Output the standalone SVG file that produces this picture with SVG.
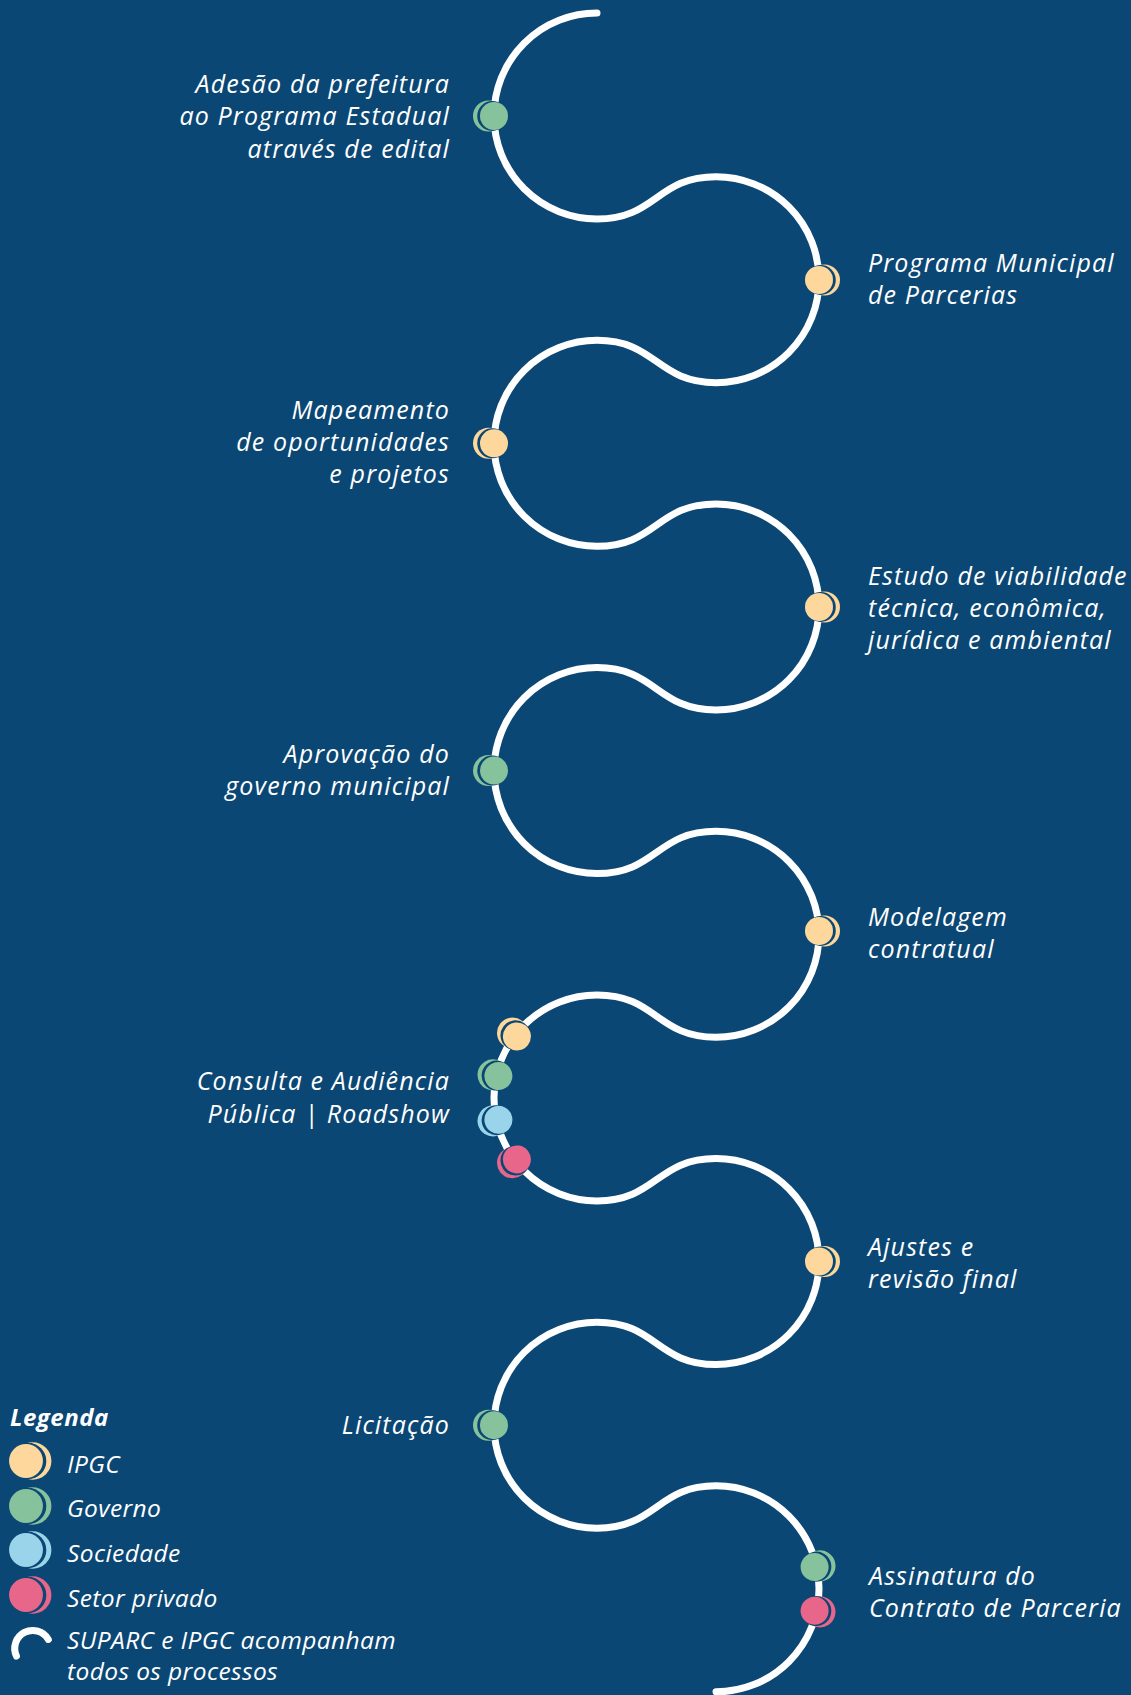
<svg xmlns="http://www.w3.org/2000/svg" xmlns:xlink="http://www.w3.org/1999/xlink" width="1131" height="1695" viewBox="0 0 1131 1695">
<style>
.t{font-family:"Open Sans","Noto Sans",sans-serif;font-style:italic;font-size:25px;fill:#ffffff;letter-spacing:1.15px}
.l{text-anchor:end}
.g{font-size:24.5px;letter-spacing:0.4px}
.h{font-weight:bold;font-size:24px;letter-spacing:0.5px}
.line{fill:none;stroke:#ffffff;stroke-width:7;stroke-linecap:round}
</style>
<defs>
<g id="dot">
<circle cx="5.5" cy="0" r="15.5" fill="currentColor"/>
<circle cx="1.8" cy="0" r="15" fill="#0b4774"/>
<circle cx="0" cy="0" r="14" fill="currentColor"/>
</g>
</defs>
<rect x="0" y="0" width="1131" height="1695" fill="#0b4774"/>
<g id="connectors">
<path class="line" d="M597,13 A103,103 0 0 0 597,219 C656.5,219 656.5,176.65 716,176.65 A103,103 0 0 1 716,382.65 C656.5,382.65 656.5,340.3 597,340.3 A103,103 0 0 0 597,546.3 C656.5,546.3 656.5,503.95 716,503.95 A103,103 0 0 1 716,709.95 C656.5,709.95 656.5,667.6 597,667.6 A103,103 0 0 0 597,873.6 C656.5,873.6 656.5,831.25 716,831.25 A103,103 0 0 1 716,1037.25 C656.5,1037.25 656.5,994.9 597,994.9 A103,103 0 0 0 597,1200.9 C656.5,1200.9 656.5,1158.55 716,1158.55 A103,103 0 0 1 716,1364.55 C656.5,1364.55 656.5,1322.2 597,1322.2 A103,103 0 0 0 597,1528.2 C656.5,1528.2 656.5,1485.85 716,1485.85 A103,103 0 0 1 716,1691.85"/>
</g>
<g id="step-adesao">
<use xlink:href="#dot" color="#86c29c" transform="translate(494 116) rotate(180)"/>
<text class="t l" x="450" y="93">Adesão da prefeitura</text>
<text class="t l" x="450" y="125">ao Programa Estadual</text>
<text class="t l" x="450" y="158">através de edital</text>
</g>
<g id="step-programa">
<use xlink:href="#dot" color="#fdd79b" transform="translate(819 280)"/>
<text class="t" x="868" y="272">Programa Municipal</text>
<text class="t" x="868" y="304">de Parcerias</text>
</g>
<g id="step-mapeamento">
<use xlink:href="#dot" color="#fdd79b" transform="translate(494 443.3) rotate(180)"/>
<text class="t l" x="450" y="419">Mapeamento</text>
<text class="t l" x="450" y="451">de oportunidades</text>
<text class="t l" x="450" y="483">e projetos</text>
</g>
<g id="step-estudo">
<use xlink:href="#dot" color="#fdd79b" transform="translate(819 607)"/>
<text class="t" x="868" y="585">Estudo de viabilidade</text>
<text class="t" x="868" y="617">técnica, econômica,</text>
<text class="t" x="868" y="649">jurídica e ambiental</text>
</g>
<g id="step-aprovacao">
<use xlink:href="#dot" color="#86c29c" transform="translate(494 770.6) rotate(180)"/>
<text class="t l" x="450" y="763">Aprovação do</text>
<text class="t l" x="450" y="795">governo municipal</text>
</g>
<g id="step-modelagem">
<use xlink:href="#dot" color="#fdd79b" transform="translate(819 931)"/>
<text class="t" x="868" y="926">Modelagem</text>
<text class="t" x="868" y="958">contratual</text>
</g>
<g id="step-consulta">
<use xlink:href="#dot" color="#fdd79b" transform="translate(516.9 1036.4) rotate(217.5)"/>
<use xlink:href="#dot" color="#86c29c" transform="translate(498.4 1076) rotate(192.5)"/>
<use xlink:href="#dot" color="#9ad4ea" transform="translate(498.4 1119.8) rotate(167.5)"/>
<use xlink:href="#dot" color="#e9668b" transform="translate(516.9 1159.4) rotate(142.5)"/>
<text class="t l" x="450" y="1090">Consulta e Audiência</text>
<text class="t l" x="450" y="1123">Pública | Roadshow</text>
</g>
<g id="step-ajustes">
<use xlink:href="#dot" color="#fdd79b" transform="translate(819 1261.5)"/>
<text class="t" x="868" y="1256">Ajustes e</text>
<text class="t" x="868" y="1288">revisão final</text>
</g>
<g id="step-licitacao">
<use xlink:href="#dot" color="#86c29c" transform="translate(494 1425.2) rotate(180)"/>
<text class="t l" x="450" y="1434">Licitação</text>
</g>
<g id="step-assinatura">
<use xlink:href="#dot" color="#86c29c" transform="translate(814.6 1567) rotate(-12.5)"/>
<use xlink:href="#dot" color="#e9668b" transform="translate(814.6 1610.7) rotate(12.5)"/>
<text class="t" x="869" y="1585">Assinatura do</text>
<text class="t" x="869" y="1617">Contrato de Parceria</text>
</g>
<g id="legend">
<text class="t h" x="10" y="1426">Legenda</text>
<use xlink:href="#dot" color="#fdd79b" transform="translate(26 1461) scale(1.21)"/>
<text class="t g" x="67" y="1473">IPGC</text>
<use xlink:href="#dot" color="#86c29c" transform="translate(26 1506) scale(1.21)"/>
<text class="t g" x="67" y="1517">Governo</text>
<use xlink:href="#dot" color="#9ad4ea" transform="translate(26 1550) scale(1.21)"/>
<text class="t g" x="67" y="1562">Sociedade</text>
<use xlink:href="#dot" color="#e9668b" transform="translate(26 1595) scale(1.21)"/>
<text class="t g" x="67" y="1607">Setor privado</text>
<path class="line" d="M16.4,1656 A18,18 0 0 1 48.3,1639.4" stroke-width="8"/>
<text class="t g" x="67" y="1649">SUPARC e IPGC acompanham</text>
<text class="t g" x="67" y="1680">todos os processos</text>
</g>
</svg>
